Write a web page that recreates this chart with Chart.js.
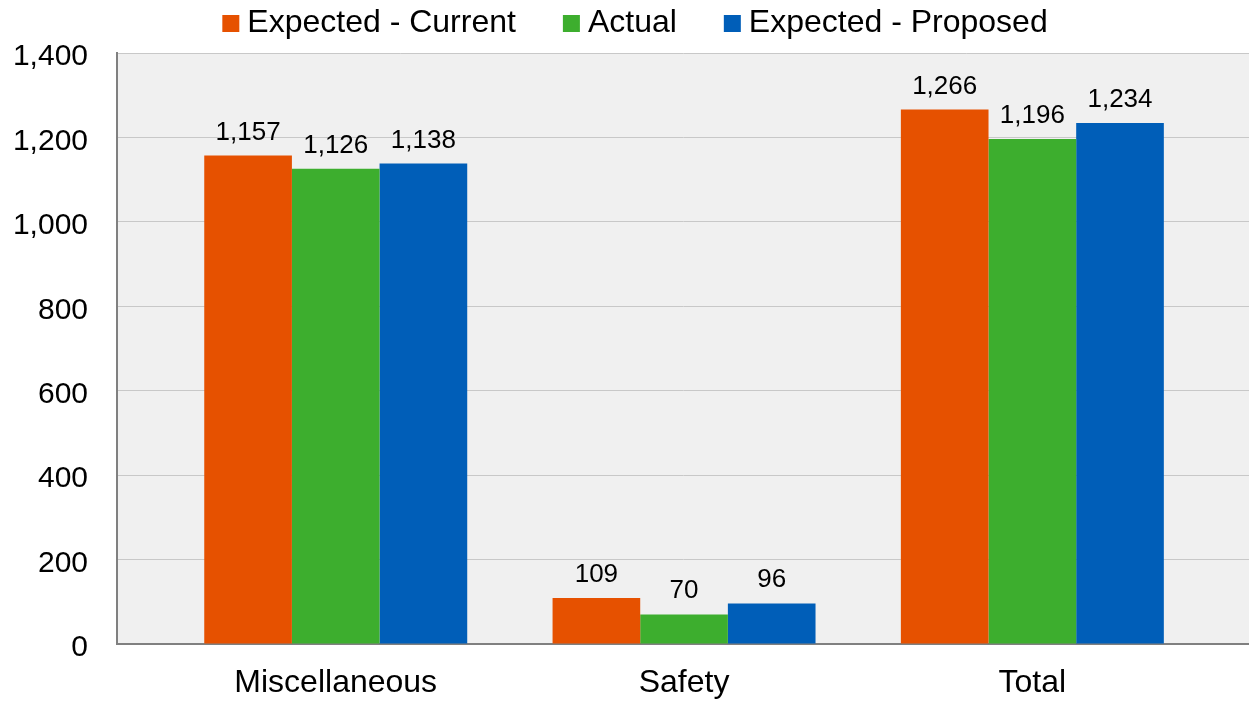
<!DOCTYPE html>
<html>
<head>
<meta charset="utf-8">
<script src="https://cdn.jsdelivr.net/npm/chart.js@4/dist/chart.umd.min.js"></script>
<style>
  html, body { margin: 0; padding: 0; background: #fff; }
  #wrap { width: 1249px; height: 702px; position: relative; }
</style>
</head>
<body>
<div id="wrap"><canvas id="chart"></canvas></div>
<script>
// categories and series
const categories = ['Miscellaneous', 'Safety', 'Total'];
const seriesNames = ['Expected - Current', 'Actual', 'Expected - Proposed'];
const expectedCurrent = [1157, 109, 1266];
const actual = [1126, 70, 1196];
const expectedProposed = [1138, 96, 1234];
const yTicks = [0, 200, 400, 600, 800, 1000, 1200, 1400];

const colors = ['#E65100', '#3DAE2E', '#005EB8'];
const FONT = '"Liberation Sans", Arial, sans-serif';

const fmt = v => v.toLocaleString('en-US');

// grey plot background
const plotBg = {
    id: 'plotBg',
    beforeDraw(chart) {
        const { ctx, chartArea: a } = chart;
        ctx.save();
        ctx.fillStyle = '#F0F0F0';
        ctx.fillRect(a.left, a.top, a.right - a.left, a.bottom - a.top);
        ctx.restore();
    }
};

// value labels above each bar
const valueLabels = {
    id: 'valueLabels',
    afterDatasetsDraw(chart) {
        const { ctx } = chart;
        ctx.save();
        ctx.font = '26px ' + FONT;
        ctx.fillStyle = '#000';
        ctx.textAlign = 'center';
        ctx.textBaseline = 'alphabetic';
        chart.data.datasets.forEach((ds, i) => {
            chart.getDatasetMeta(i).data.forEach((bar, j) => {
                ctx.fillText(fmt(ds.data[j].y), bar.x, bar.y - 16);
            });
        });
        ctx.restore();
    }
};

// legend row: small square, tight gap, then the series name
const topLegend = {
    id: 'topLegend',
    afterDraw(chart) {
        const { ctx } = chart;
        const box = 17, gap = 8, itemGap = 47, centre = 635;
        ctx.save();
        ctx.font = '32px ' + FONT;
        ctx.textBaseline = 'alphabetic';
        ctx.textAlign = 'left';
        const items = chart.data.datasets.map(ds => ({
            text: ds.label, color: ds.backgroundColor, w: ctx.measureText(ds.label).width
        }));
        const total = items.reduce((s, it) => s + box + gap + it.w, 0) + itemGap * (items.length - 1);
        let x = centre - total / 2;
        items.forEach(it => {
            ctx.fillStyle = it.color;
            ctx.fillRect(x, 15, box, box);
            ctx.fillStyle = '#000';
            ctx.fillText(it.text, x + box + gap, 32);
            x += box + gap + it.w + itemGap;
        });
        ctx.restore();
    }
};

new Chart(document.getElementById('chart'), {
    type: 'bar',
    data: {
        datasets: [expectedCurrent, actual, expectedProposed].map((d, i) => ({
            label: seriesNames[i],
            data: d.map((v, k) => ({ x: k, y: v })),
            backgroundColor: colors[i],
            borderWidth: 0,
            barPercentage: 1,
            categoryPercentage: 0.755
        }))
    },
    options: {
        responsive: true,
        maintainAspectRatio: false,
        animation: false,
        layout: { padding: { left: 0, right: 0, top: 53, bottom: 0 } },
        plugins: {
            legend: { display: false },
            tooltip: { enabled: false }
        },
        scales: {
            x: {
                type: 'linear',
                offset: false,
                min: -0.628,
                max: 2.622,
                afterBuildTicks: axis => { axis.ticks = categories.map((c, i) => ({ value: i })); },
                grid: { display: false, drawTicks: false },
                border: { color: '#808080', width: 2 },
                ticks: {
                    font: { family: FONT, size: 32 },
                    color: '#000',
                    padding: 20,
                    maxRotation: 0,
                    autoSkip: false,
                    callback: v => categories[v]
                },
                afterFit: axis => { axis.height = 58; }
            },
            y: {
                min: yTicks[0],
                max: yTicks[yTicks.length - 1],
                afterBuildTicks: axis => { axis.ticks = yTicks.map(v => ({ value: v })); },
                grid: { color: '#C8C8C8', lineWidth: 1, drawTicks: false },
                border: { color: '#808080', width: 2 },
                ticks: {
                    font: { family: FONT, size: 30 },
                    color: '#000',
                    padding: 29,
                    labelOffset: 4,
                    callback: v => fmt(v)
                },
                afterFit: axis => { axis.width = 117; }
            }
        }
    },
    plugins: [plotBg, valueLabels, topLegend]
});
</script>
</body>
</html>
